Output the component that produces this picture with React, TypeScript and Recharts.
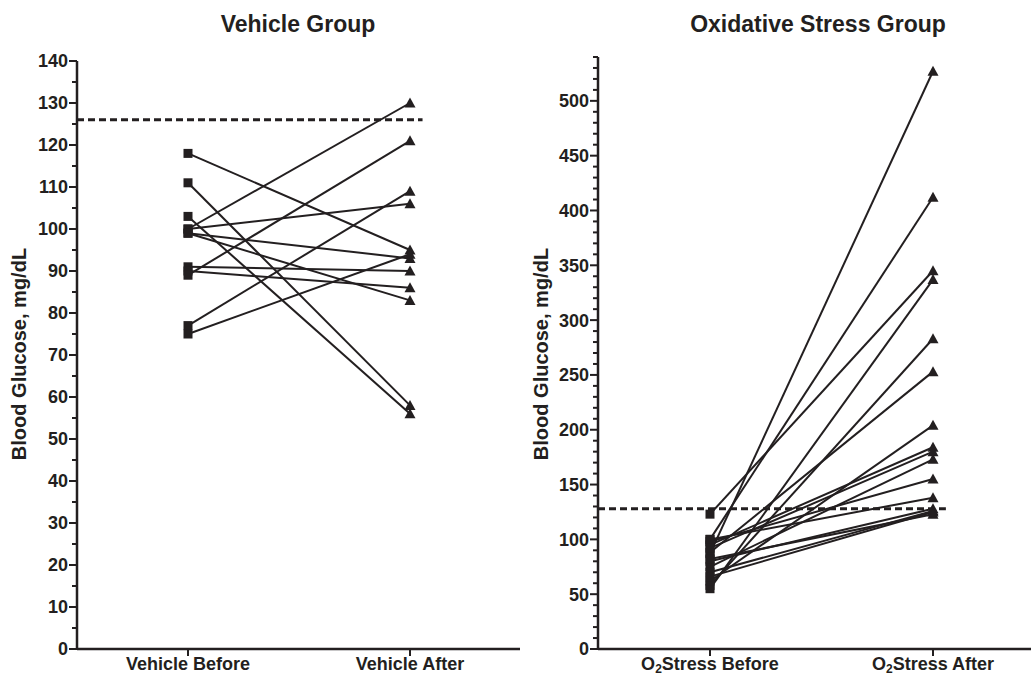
import { LineChart, Line, XAxis, YAxis, ReferenceLine } from 'recharts';

const INK = '#231f20';
const FONT = '"Liberation Sans", Arial, Helvetica, sans-serif';

// Vehicle group: one entry per animal, before / after
const vehicleCats = ['Vehicle Before', 'Vehicle After'];
const vehicleBefore = [118, 111, 103, 100, 100, 99, 99, 91, 90, 89, 77, 75];
const vehicleAfter = [95, 58, 56, 130, 106, 93, 83, 90, 86, 121, 109, 94];
const vehicleTicks = [0, 5, 10, 15, 20, 25, 30, 35, 40, 45, 50, 55, 60, 65, 70, 75, 80, 85, 90, 95, 100, 105, 110, 115, 120, 125, 130, 135, 140];
const vehicleThreshold = 126;

// Oxidative stress group
const stressCats = ['O2Stress Before', 'O2Stress After'];
const stressBefore = [123, 100, 87, 55, 58, 88, 62, 95, 92, 75, 98, 100, 80, 70, 66, 82];
const stressAfter = [345, 412, 527, 337, 283, 253, 204, 184, 180, 173, 155, 138, 128, 126, 125, 123];
const stressTicks = Array.from({ length: 55 }, (_, i) => i * 10);
const stressThreshold = 128;

const toRows = (cats: string[], before: number[], after: number[]) =>
  cats.map((c, j) => {
    const row: Record<string, any> = { cat: c };
    (j === 0 ? before : after).forEach((v, i) => (row[`s${i}`] = v));
    return row;
  });

const Marker = (props: any) => {
  const { cx, cy, index, dataKey } = props;
  if (cx == null || cy == null) return null;
  const key = `m-${dataKey}-${index}`;
  if (index === 0)
    return <rect key={key} x={cx - 4.5} y={cy - 4.5} width={9} height={9} fill={INK} />;
  return (
    <path key={key} d={`M${cx},${cy - 5.5}L${cx + 5.5},${cy + 4.5}L${cx - 5.5},${cy + 4.5}Z`} fill={INK} />
  );
};

const makeYTick = (step: number) => (props: any) => {
  const { x, y, payload } = props;
  const major = payload.value % step === 0;
  return (
    <g>
      <line x1={x} x2={x - (major ? 8 : 5)} y1={y} y2={y} stroke={INK} strokeWidth={2} />
      {major && (
        <text x={x - 9} y={y} dy="0.36em" textAnchor="end" fontSize={18} fontWeight="bold" fill={INK} fontFamily={FONT}>
          {payload.value}
        </text>
      )}
    </g>
  );
};

const XTick = (props: any) => {
  const { x, y, payload } = props;
  const label: string = payload.value;
  const sub = label.startsWith('O2');
  return (
    <g>
      <line x1={x} x2={x} y1={y} y2={y + 7} stroke={INK} strokeWidth={2} />
      <text x={x} y={y + 21} textAnchor="middle" fontSize={18} fontWeight="bold" fill={INK} fontFamily={FONT}>
        {sub ? (
          <>
            <tspan>O</tspan>
            <tspan fontSize={12} dy={3}>2</tspan>
            <tspan dy={-3}>{label.slice(2)}</tspan>
          </>
        ) : (
          label
        )}
      </text>
    </g>
  );
};

const AXIS_W = 70;

const Panel = ({
  cats, before, after, ticks, step, max, threshold, width, top, padL, padR,
}: {
  cats: string[]; before: number[]; after: number[]; ticks: number[]; step: number;
  max: number; threshold: number; width: number; top: number; padL: number; padR: number;
}) => {
  const rows = toRows(cats, before, after);
  return (
    <LineChart width={width + AXIS_W} height={690} data={rows} margin={{ top, right: 0, bottom: 13, left: 0 }}>
      <XAxis
        dataKey="cat"
        scale="point"
        padding={{ left: padL, right: padR }}
        height={28}
        tickSize={0}
        tickMargin={0}
        tickLine={false}
        axisLine={{ stroke: INK, strokeWidth: 2.5 }}
        tick={XTick}
        interval={0}
      />
      <XAxis xAxisId="frac" type="number" domain={[0, 1]} hide />
      <YAxis
        type="number"
        domain={[0, max]}
        ticks={ticks}
        interval={0}
        width={AXIS_W}
        tickSize={0}
        tickMargin={0}
        tickLine={false}
        axisLine={{ stroke: INK, strokeWidth: 2.5 }}
        tick={makeYTick(step)}
      />
      <ReferenceLine
        xAxisId="frac"
        segment={[{ x: 0, y: threshold }, { x: 0.78, y: threshold }]}
        stroke={INK}
        strokeWidth={3}
        strokeDasharray="7 4"
      />
      {before.map((_, i) => (
        <Line
          key={i}
          dataKey={`s${i}`}
          type="linear"
          stroke={INK}
          strokeWidth={2}
          dot={Marker}
          activeDot={false}
          isAnimationActive={false}
        />
      ))}
    </LineChart>
  );
};

const title: React.CSSProperties = {
  position: 'absolute', top: 13, fontFamily: FONT, fontWeight: 'bold', fontSize: 23,
  lineHeight: 1, textAlign: 'center', color: INK, whiteSpace: 'nowrap',
};
const yLabel: React.CSSProperties = {
  position: 'absolute', width: 300, height: 24, lineHeight: '24px', fontFamily: FONT,
  fontWeight: 'bold', fontSize: 20, textAlign: 'center', color: INK, whiteSpace: 'nowrap',
  transform: 'rotate(-90deg)',
};

export default function App() {
  return (
    <div style={{ position: 'absolute', left: 0, top: 0, width: 1031, height: 677, overflow: 'hidden', background: '#fff' }}>
      <div style={{ ...title, left: 0, width: 596 }}>Vehicle Group</div>
      <div style={{ ...title, left: 518, width: 600 }}>Oxidative Stress Group</div>
      <div style={{ ...yLabel, left: 19 - 150, top: 354 - 12 }}>Blood Glucose, mg/dL</div>
      <div style={{ ...yLabel, left: 541 - 150, top: 354 - 12 }}>Blood Glucose, mg/dL</div>
      <div style={{ position: 'absolute', left: 77 - AXIS_W, top: 0 }}>
        <Panel cats={vehicleCats} before={vehicleBefore} after={vehicleAfter} ticks={vehicleTicks}
          step={10} max={140} threshold={vehicleThreshold} width={443} top={61} padL={111} padR={110} />
      </div>
      <div style={{ position: 'absolute', left: 598 - AXIS_W, top: 0 }}>
        <Panel cats={stressCats} before={stressBefore} after={stressAfter} ticks={stressTicks}
          step={50} max={540} threshold={stressThreshold} width={446} top={57} padL={112} padR={111} />
      </div>
    </div>
  );
}
